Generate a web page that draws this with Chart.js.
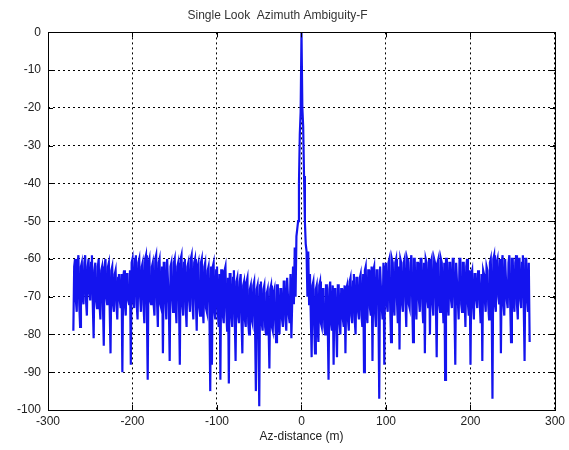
<!DOCTYPE html>
<html>
<head>
<meta charset="utf-8">
<title>Single Look Azimuth Ambiguity-F</title>
<script src="https://cdn.jsdelivr.net/npm/chart.js@4.4.1/dist/chart.umd.min.js"></script>
<style>
    html, body { margin: 0; padding: 0; background: #fff; }
    #contenedor { width: 569px; height: 450px; }
</style>
</head>
<body>
<div id="contenedor"><canvas id="canvaAmbiguedad"></canvas></div>
<script>
// textos del grafico
const tituloGrafico = "Single Look  Azimuth Ambiguity-F";
const tituloEjeX = "Az-distance (m)";

// limites y pasos de los ejes
const ejeX = { min: -300, max: 300, paso: 100 };
const ejeY = { min: -100, max: 0, paso: 10 };

// lado izquierdo, metros pares: desde -270 m hasta -12 m, cada 2 m (dB)
const inicioIzquierda = -270;
const nivelesIzquierda = [
    -79, -60, -74, -59, -78, -61, -72, -59, -75, -60,
    -71, -59, -81, -61, -73, -60, -76, -62, -83, -60,
    -72, -61, -85, -62, -74, -63, -76, -64, -73, -90,
    -63, -75, -64, -72, -88, -60, -73, -59, -76, -60,
    -74, -61, -77, -59, -92, -60, -72, -61, -75, -59,
    -78, -60, -73, -85, -61, -76, -60, -87, -61, -74,
    -60, -77, -61, -88, -59, -75, -60, -78, -61, -74,
    -59, -76, -60, -79, -61, -75, -60, -77, -61, -74,
    -62, -95, -88, -61, -76, -62, -78, -92, -63, -77,
    -62, -79, -93, -64, -78, -63, -87, -65, -77, -64,
    -85, -66, -78, -65, -80, -67, -77, -66, -95, -67,
    -99, -66, -79, -67, -80, -68, -89, -67, -79, -68,
    -82, -67, -80, -68, -78, -66, -79, -65, -77, -81
];

// lado izquierdo, metros impares: desde -269 m hasta -13 m, cada 2 m (dB)
const inicioIzquierdaImpar = -269;
const nivelesIzquierdaImpar = [
    -62, -71, -61, -72, -62, -70, -61, -71, -62, -69,
    -61, -72, -63, -71, -62, -72, -63, -72, -62, -70,
    -62, -73, -63, -72, -64, -72, -65, -71, -64, -65,
    -72, -64, -71, -63, -61, -71, -60, -72, -61, -70,
    -62, -72, -60, -73, -61, -71, -62, -72, -60, -71,
    -61, -72, -62, -61, -71, -60, -72, -62, -70, -61,
    -72, -62, -71, -60, -72, -61, -73, -62, -71, -60,
    -72, -61, -71, -62, -73, -61, -72, -62, -73, -63,
    -73, -62, -62, -74, -63, -74, -64, -63, -75, -63,
    -74, -65, -64, -75, -65, -76, -66, -75, -66, -76,
    -67, -76, -66, -77, -68, -76, -67, -77, -68, -78,
    -67, -77, -68, -78, -69, -77, -68, -78, -69, -77,
    -67, -78, -68, -76, -66, -76, -65, -75, -64
];

// lobulo principal: desde -10 m hasta 10 m, cada 1 m (dB)
const inicioCentro = -10;
const nivelesCentro = [
    -62, -72, -57, -70, -54, -52, -50, -40, -27, -21,
    0,
    -20, -25, -38, -50, -56, -58, -70, -58, -72, -64
];

// lado derecho, metros pares: desde 12 m hasta 270 m, cada 2 m (dB)
const inicioDerecha = 12;
const nivelesDerecha = [
    -86, -66, -85, -67, -82, -66, -78, -68, -80, -67,
    -92, -66, -79, -88, -68, -86, -67, -80, -68, -78,
    -85, -67, -79, -65, -77, -64, -80, -65, -76, -64,
    -78, -90, -62, -77, -63, -75, -87, -62, -78, -63,
    -97, -62, -76, -88, -61, -74, -60, -82, -61, -75,
    -60, -77, -84, -61, -74, -60, -78, -61, -73, -59,
    -82, -60, -76, -61, -74, -60, -77, -85, -61, -73,
    -80, -60, -75, -61, -86, -60, -74, -61, -77, -92,
    -60, -75, -61, -73, -60, -88, -61, -76, -60, -74,
    -61, -78, -60, -75, -88, -63, -76, -64, -73, -65,
    -77, -87, -64, -74, -63, -76, -60, -97, -59, -74,
    -60, -72, -85, -59, -75, -60, -73, -59, -82, -60,
    -74, -59, -76, -60, -73, -59, -87, -60, -74, -82
];

// lado derecho, metros impares: desde 13 m hasta 269 m, cada 2 m (dB)
const inicioDerechaImpar = 13;
const nivelesDerechaImpar = [
    -67, -77, -68, -78, -67, -77, -68, -78, -67, -76,
    -68, -77, -67, -68, -78, -67, -77, -68, -76, -67,
    -68, -76, -66, -75, -66, -76, -65, -74, -65, -75,
    -64, -63, -74, -63, -73, -62, -63, -74, -63, -72,
    -62, -73, -61, -62, -72, -61, -73, -60, -72, -61,
    -71, -62, -60, -72, -61, -71, -60, -72, -61, -71,
    -60, -72, -61, -71, -60, -72, -61, -60, -71, -60,
    -61, -72, -60, -71, -61, -72, -60, -70, -61, -60,
    -72, -61, -71, -60, -72, -61, -71, -60, -72, -61,
    -70, -62, -72, -63, -64, -72, -64, -71, -63, -72,
    -64, -63, -71, -62, -72, -61, -71, -60, -72, -61,
    -70, -60, -61, -72, -60, -71, -61, -72, -60, -71,
    -61, -72, -60, -71, -61, -72, -60, -71, -61
];

// arma los puntos {x, y} de cada tramo
function armarTramo(inicio, paso, niveles) {
    return niveles.map((nivel, i) => ({ x: inicio + paso * i, y: nivel }));
}

// se juntan todos los tramos y se ordenan por distancia
let puntos = []
    .concat(armarTramo(inicioIzquierda, 2, nivelesIzquierda))
    .concat(armarTramo(inicioIzquierdaImpar, 2, nivelesIzquierdaImpar))
    .concat(armarTramo(inicioCentro, 1, nivelesCentro))
    .concat(armarTramo(inicioDerecha, 2, nivelesDerecha))
    .concat(armarTramo(inicioDerechaImpar, 2, nivelesDerechaImpar))
    .sort((a, b) => a.x - b.x);

const fuente = { family: "'Liberation Sans', Arial, sans-serif", size: 12, weight: "normal" };

// marco del grafico y marcas de los ticks hacia adentro (estilo matlab)
const pluginMarco = {
    id: "marco",
    afterDraw(chart) {
        const { ctx, chartArea: area, scales } = chart;
        const largo = 5;
        ctx.save();
        ctx.strokeStyle = "#000";
        ctx.lineWidth = 1;
        ctx.beginPath();
        scales.x.ticks.forEach(t => {
            let px = Math.round(scales.x.getPixelForValue(t.value)) + 0.5;
            ctx.moveTo(px, area.bottom);
            ctx.lineTo(px, area.bottom - largo);
            ctx.moveTo(px, area.top);
            ctx.lineTo(px, area.top + largo);
        });
        scales.y.ticks.forEach(t => {
            let py = Math.round(scales.y.getPixelForValue(t.value)) + 0.5;
            ctx.moveTo(area.left, py);
            ctx.lineTo(area.left + largo, py);
            ctx.moveTo(area.right, py);
            ctx.lineTo(area.right - largo, py);
        });
        ctx.stroke();
        ctx.strokeRect(Math.round(area.left) + 0.5, Math.round(area.top) + 0.5,
            Math.round(area.right - area.left), Math.round(area.bottom - area.top));
        ctx.restore();
    }
};

new Chart(document.getElementById("canvaAmbiguedad"), {
    type: "line",
    data: {
        datasets: [{
            label: "Ambiguity",
            data: puntos,
            borderColor: "#1414ee",
            borderWidth: 2.2,
            pointRadius: 0,
            tension: 0,
            fill: false
        }]
    },
    options: {
        responsive: true,
        maintainAspectRatio: false,
        animation: false,
        layout: {
            padding: { left: 0, right: 14, top: 0, bottom: 0 }
        },
        plugins: {
            legend: { display: false },
            tooltip: { enabled: false },
            title: {
                display: true,
                text: tituloGrafico,
                color: "#333",
                font: fuente,
                padding: { top: 8, bottom: 10 }
            }
        },
        scales: {
            x: {
                type: "linear",
                min: ejeX.min,
                max: ejeX.max,
                afterFit: escala => { escala.height = 40; },
                ticks: {
                    stepSize: ejeX.paso,
                    color: "#222",
                    font: fuente,
                    padding: 4,
                    maxRotation: 0
                },
                grid: {
                    color: "#000",
                    lineWidth: 1,
                    drawTicks: false
                },
                border: { display: false, dash: [2, 3] },
                title: {
                    display: true,
                    text: tituloEjeX,
                    color: "#222",
                    font: fuente,
                    padding: { top: 6, bottom: 6 }
                }
            },
            y: {
                type: "linear",
                min: ejeY.min,
                max: ejeY.max,
                afterFit: escala => { escala.width = 48; },
                ticks: {
                    stepSize: ejeY.paso,
                    color: "#222",
                    font: fuente,
                    padding: 7
                },
                grid: {
                    color: "#000",
                    lineWidth: 1,
                    drawTicks: false
                },
                border: { display: false, dash: [2, 3] }
            }
        }
    },
    plugins: [pluginMarco]
});
</script>
</body>
</html>
